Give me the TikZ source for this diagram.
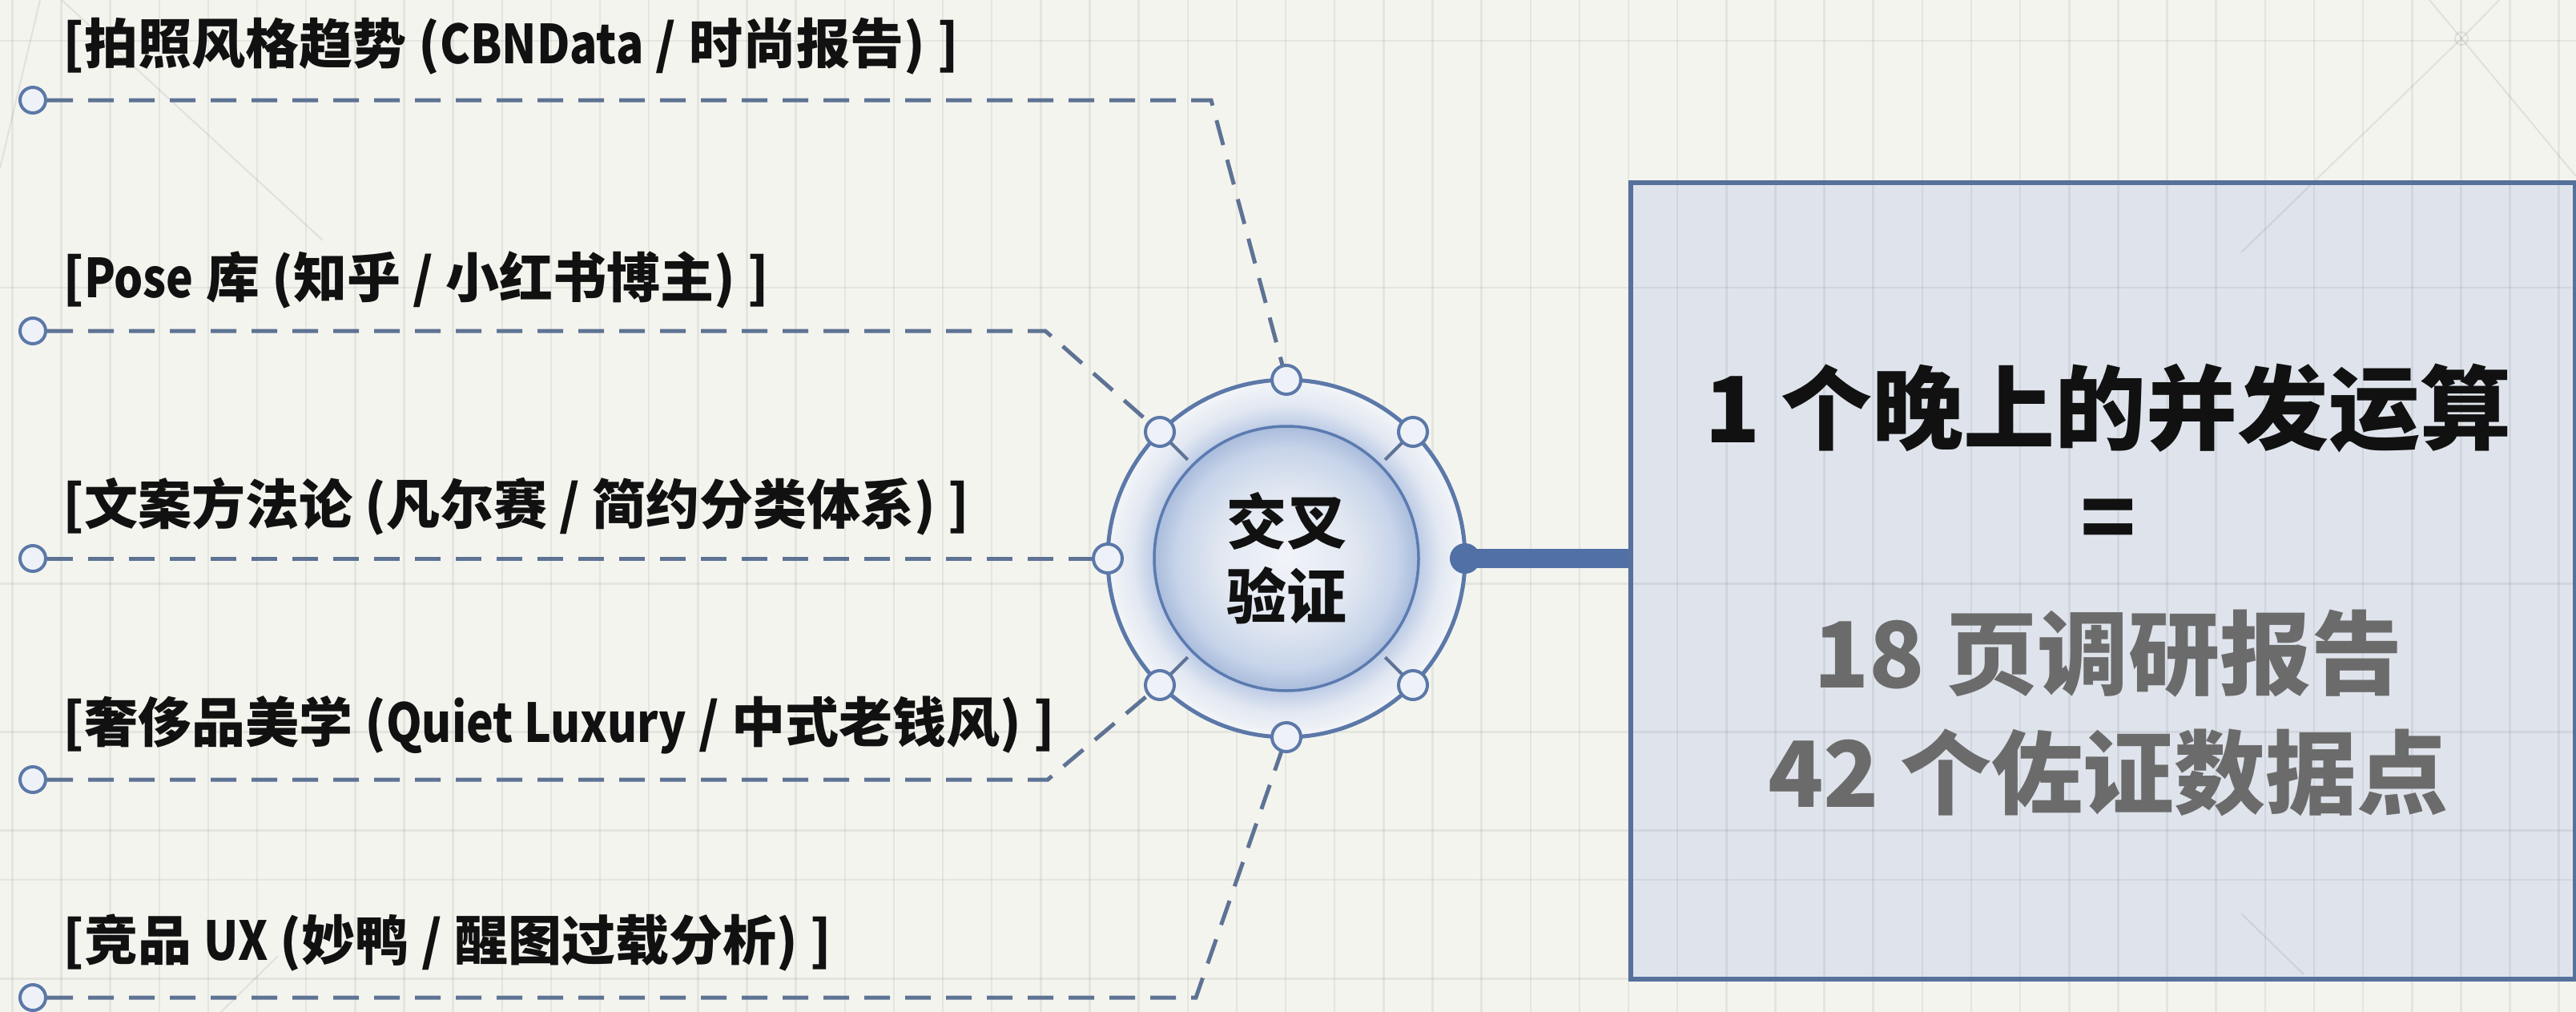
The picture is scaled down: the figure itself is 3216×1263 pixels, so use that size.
\documentclass[tikz,border=0pt]{standalone}
\usepackage{fontspec}
\setmainfont{Noto Sans CJK SC}
\newfontfamily\latfam{Noto Sans CJK SC}[FakeStretch=0.85]
\newcommand\latn[1]{{\latfam\bfseries #1}}
\usetikzlibrary{calc}
\pgfdeclarelayer{bg}
\pgfdeclarelayer{glow}
\pgfdeclarelayer{links}
\pgfsetlayers{bg,glow,links,main}
\definecolor{bgc}{HTML}{F4F4EF}
\definecolor{ink}{HTML}{111111}
\definecolor{grayt}{HTML}{6B6B6B}
\definecolor{ringc}{HTML}{5B78A8}
\definecolor{dashc}{HTML}{5E7394}
\definecolor{nodefill}{HTML}{EEF2F8}
\definecolor{barc}{HTML}{5070A6}
\definecolor{boxc}{HTML}{56719C}
\definecolor{boxfill}{HTML}{DFE4EC}
\definecolor{glowin}{HTML}{BCCBE5}
\definecolor{glowmid}{HTML}{E2E8F2}
\definecolor{glowout}{HTML}{F3F5F8}
\definecolor{corec}{HTML}{F1F4F9}
\definecolor{corem}{HTML}{E1E7F1}
\definecolor{corer}{HTML}{C6D3E9}
\definecolor{corerim}{HTML}{A9BCDC}
\definecolor{corebd}{HTML}{5B7BB0}
\pgfdeclareradialshading{ringglow}{\pgfpoint{0bp}{0bp}}{color(0bp)=(glowin); color(18.5bp)=(glowin); color(21.5bp)=(glowmid); color(25bp)=(glowout); color(50bp)=(glowout)}
\pgfdeclareradialshading{coreshade}{\pgfpoint{0bp}{0bp}}{color(0bp)=(corec); color(13bp)=(corem); color(21bp)=(corer); color(25bp)=(corerim); color(50bp)=(corerim)}
\tikzset{
  lbl/.style={anchor=west, inner sep=0pt, text=ink, font=\bfseries\fontsize{67}{80}\selectfont},
  srcdot/.style={circle, draw=ringc, fill=nodefill, line width=4pt, minimum size=32pt, inner sep=0pt},
  ringdot/.style={circle, draw=ringc, fill=nodefill, line width=4pt, minimum size=36pt, inner sep=0pt},
  link/.style={draw=dashc, line width=5pt, dash pattern=on 32pt off 19pt},
  stubl/.style={draw=dashc, line width=4pt},
  gridl/.style={draw=black, opacity=0.06, line width=2.5pt},
  fdiag/.style={draw=black, opacity=0.08, line width=2pt},
  bigt/.style={inner sep=0pt, font=\bfseries\fontsize{114}{130}\selectfont},
}
\begin{document}
\begin{tikzpicture}[x=1pt,y=-1pt]
\useasboundingbox (0,0) rectangle (3216,1263);

% result box (outline; fill on background layer)
\node[draw=boxc, line width=6pt, minimum width=1179pt, minimum height=994pt, inner sep=0pt, anchor=north west] (box) at (2033,225) {};

\begin{pgfonlayer}{bg}
  \fill[bgc] (0,0) rectangle (3216,1263);
  \fill[boxfill] (box.north west) rectangle (box.south east);
  \foreach \k in {0,...,52} { \draw[gridl] ({15.4+61.14*\k},0) -- ++(0,1263); }
  \foreach \k in {0,5,11,14,16,17,19} { \draw[gridl] (0,{51+61.6*\k}) -- ++(3216,0); }
  \draw[fdiag] (3073,48) -- (2798,315);
  \draw[fdiag] (3073,48) -- (3140,-20);
  \draw[fdiag] (3073,48) -- (3216,220);
  \draw[fdiag] (3073,48) -- (3033,0);
  \draw[fdiag] (3073,48) circle (8);
  \draw[fdiag] (2798,1140) -- (2876,1216);
  \draw[fdiag] (77,0) -- (403,300);
  \draw[fdiag] (0,210) -- (50,0);
  \draw[fdiag] (347,1193) -- (276,1263);
\end{pgfonlayer}

% hub
\coordinate (C) at (1606,697);
\begin{pgfonlayer}{glow}
  \shade[shading=ringglow] (C) circle (223);
\end{pgfonlayer}
\draw[ringc, line width=5pt] (C) circle (223);
\node[circle, minimum size=330pt, inner sep=0pt, shading=coreshade, draw=corebd, line width=3.5pt,
      align=center, text=ink, font=\bfseries\fontsize{75}{93}\selectfont] (hub) at (C) {交叉\\验证};

% ring nodes
\node[ringdot] (r90)  at (1606,474) {};
\node[ringdot] (r45)  at (1764,539) {};
\node[ringdot] (r135) at (1448,539) {};
\node[ringdot] (r180) at (1383,697) {};
\node[ringdot] (r225) at (1448,855) {};
\node[ringdot] (r270) at (1606,920) {};
\node[ringdot] (r315) at (1764,855) {};
\coordinate (re) at (1829,697);

% source dots
\node[srcdot] (s1) at (41,125) {};
\node[srcdot] (s2) at (41,413) {};
\node[srcdot] (s3) at (41,697) {};
\node[srcdot] (s4) at (41,973) {};
\node[srcdot] (s5) at (41,1245) {};

% labels
\node[lbl] (l1) at (78,58)   {[拍照风格趋势 (\latn{CBNData} / 时尚报告) ]};
\node[lbl] (l2) at (78,349)  {[\latn{Pose} 库 (知乎 / 小红书博主) ]};
\node[lbl] (l3) at (78,632)  {[文案方法论 (凡尔赛 / 简约分类体系) ]};
\node[lbl] (l4) at (78,905)  {[奢侈品美学 (\latn{Quiet Luxury} / 中式老钱风) ]};
\node[lbl] (l5) at (78,1177) {[竞品 \latn{UX} (妙鸭 / 醒图过载分析) ]};

% connectors
\coordinate (k1) at (1512,125);
\coordinate (k2) at (1305,413);
\coordinate (k4) at (1308,973);
\coordinate (k5) at (1493,1245);
\begin{pgfonlayer}{links}
  \draw[link] (s1.east) -- (k1) -- (r90.center);
  \draw[link] (s2.east) -- (k2) -- (r135.center);
  \draw[link] (s3.east) -- (r180.center);
  \draw[link] (s4.east) -- (k4) -- (r225.center);
  \draw[link] (s5.east) -- (k5) -- (r270.center);
  \draw[stubl] (r135.center) -- ($(r135.center)!0.22!(hub.center)$);
  \draw[stubl] (r225.center) -- ($(r225.center)!0.22!(hub.center)$);
  \draw[stubl] (r45.center) -- ($(r45.center)!0.22!(hub.center)$);
  \draw[stubl] (r315.center) -- ($(r315.center)!0.22!(hub.center)$);
\end{pgfonlayer}

% thick bar to box
\draw[barc, line width=24pt] (re) -- (re -| box.west);
\fill[barc] (re) circle (19);

% box text
\node[bigt, text=ink]   (t1) at (2632,509) {1 个晚上的并发运算};
\node[bigt, text=ink]   (eq) at (2632,656) {=};
\node[bigt, text=grayt] (t2) at (2632,816) {18 页调研报告};
\node[bigt, text=grayt] (t3) at (2632,964) {42 个佐证数据点};
\end{tikzpicture}
\end{document}
